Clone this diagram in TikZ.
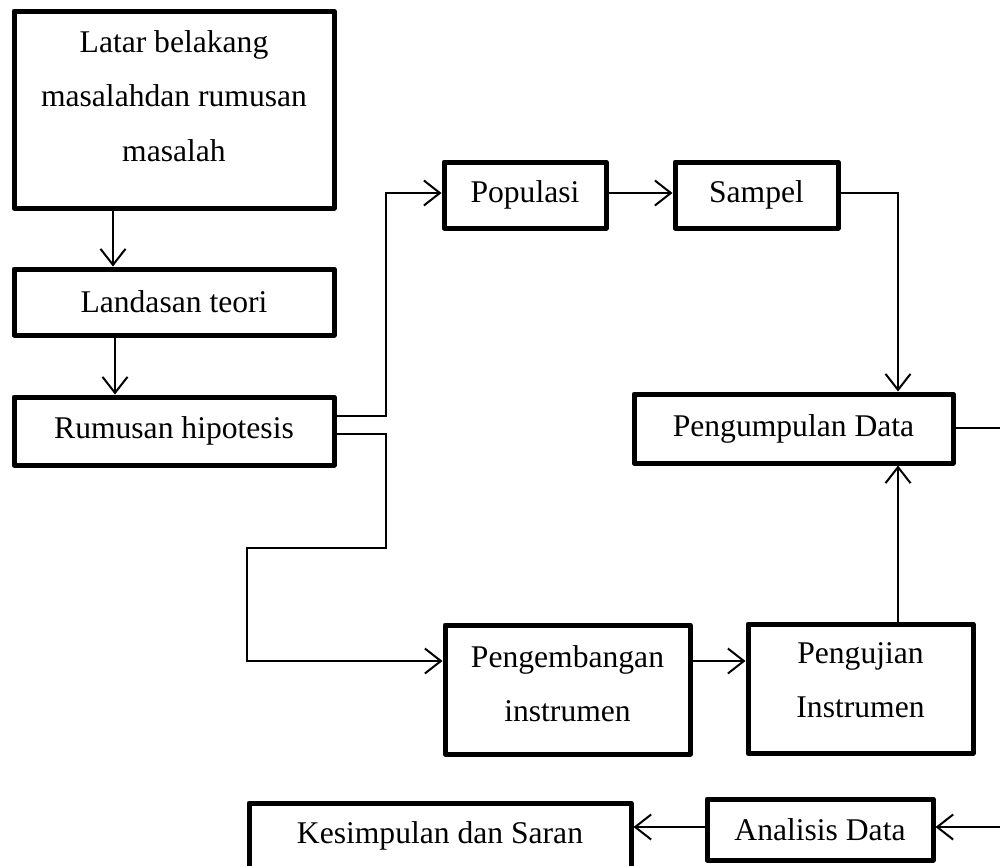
\documentclass[tikz,border=0pt]{standalone}
\usepackage{fontspec}
\setmainfont{Liberation Serif}
\usetikzlibrary{arrows.meta}
\begin{document}
\begin{tikzpicture}[x=1pt,y=-1pt,
  box/.style={draw, line width=5pt, line join=round, rectangle, inner sep=0pt,
    font=\fontsize{31.6}{54.5}\selectfont},
  lbl/.style={inner sep=0pt, align=center, font=\fontsize{31.6}{54.5}\selectfont},
  conn/.style={line width=2pt},
  arr/.style={conn, -{Straight Barb[length=16pt,width=25pt,line width=2pt]}}
]
\useasboundingbox (0,0) rectangle (1000,865);
\fill[white] (0,0) rectangle (1000,865);

% boxes
\node[box, minimum width=320pt, minimum height=197pt] (b1) at (174,109.5) {};
\node[lbl] (b1t) at (174,95.7) {Latar belakang\\masalahdan rumusan\\masalah};
\node[box, minimum width=320pt, minimum height=66pt] (b2) at (174,302) {Landasan teori};
\node[box, minimum width=320pt, minimum height=68pt] (b3) at (174,431) {Rumusan hipotesis};
\node[box, minimum width=162pt, minimum height=66pt] (b4) at (525,195) {Populasi};
\node[box, minimum width=163pt, minimum height=66pt] (b5) at (756.5,195) {Sampel};
\node[box, minimum width=319pt, minimum height=69pt] (b6) at (793.5,428.5) {Pengumpulan Data};
\node[box, minimum width=245pt, minimum height=129pt] (b7) at (567.5,689.5) {};
\node[lbl] (b7t) at (567.5,683.5) {Pengembangan\\instrumen};
\node[box, minimum width=225pt, minimum height=129pt] (b8) at (860.5,688.5) {};
\node[lbl] (b8t) at (860.5,680) {Pengujian\\Instrumen};
\node[box, minimum width=226pt, minimum height=61pt] (b9) at (820,829.5) {Analisis Data};
\node[box, minimum width=382pt, minimum height=65pt] (b10) at (440,835.5) {Kesimpulan dan Saran};

% bend points
\coordinate (xa) at (113,0);
\coordinate (xb) at (115,0);
\coordinate (r1) at (386,416);
\coordinate (r2) at (386,193);
\coordinate (s1) at (898,193);
\coordinate (h1) at (386,434);
\coordinate (h2) at (386,548);
\coordinate (h3) at (247,548);
\coordinate (h4) at (247,661);
\coordinate (e1) at (1004,428);
\coordinate (e2) at (1004,827);

% connectors
\draw[arr] (b1.south -| xa) -- (b2.north -| xa);
\draw[arr] (b2.south -| xb) -- (b3.north -| xb);
\draw[arr] (b3.east |- r1) -- (r1) -- (r2) -- (b4.west |- r2);
\draw[arr] (b4.east |- r2) -- (b5.west |- r2);
\draw[arr] (b5.east |- s1) -- (s1) -- (b6.north -| s1);
\draw[arr] (b3.east |- h1) -- (h1) -- (h2) -- (h3) -- (h4) -- (b7.west |- h4);
\draw[arr] (b7.east |- h4) -- (b8.west |- h4);
\draw[arr] (b8.north -| s1) -- (b6.south -| s1);
\draw[arr] (b6.east |- e1) -- (e1) -- (e2) -- (b9.east |- e2);
\draw[arr] (b9.west |- e2) -- (b10.east |- e2);
\end{tikzpicture}
\end{document}
